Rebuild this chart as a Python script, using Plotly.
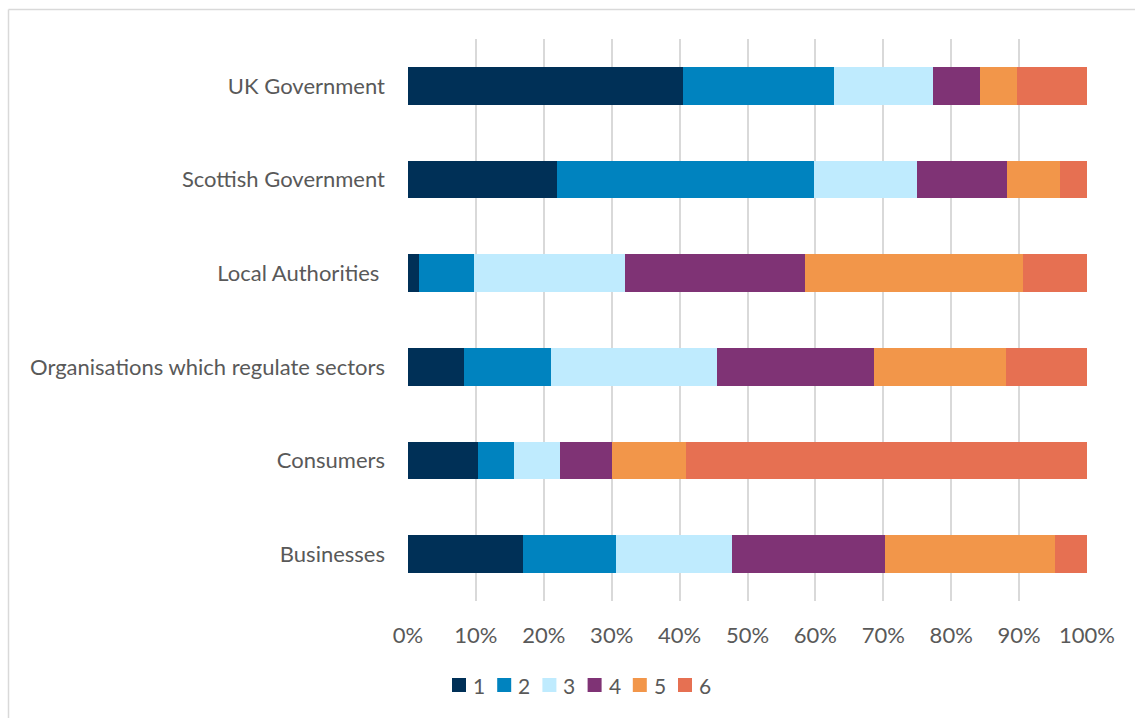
import plotly.graph_objects as go

# Respondent groups, listed top to bottom
categories = [
    "UK Government",
    "Scottish Government",
    "Local Authorities ",
    "Organisations which regulate sectors",
    "Consumers",
    "Businesses",
]

# Share of responses (%) for each rank 1-6
rank_1 = [40.5, 21.9, 1.6, 8.2, 10.3, 17.0]
rank_2 = [22.3, 37.9, 8.1, 12.8, 5.3, 13.7]
rank_3 = [14.5, 15.2, 22.3, 24.5, 6.8, 17.0]
rank_4 = [7.0, 13.2, 26.5, 23.2, 7.6, 22.6]
rank_5 = [5.4, 7.8, 32.0, 19.3, 11.0, 25.0]
rank_6 = [10.3, 4.0, 9.5, 12.0, 59.0, 4.7]

series_names = ["1", "2", "3", "4", "5", "6"]
series_values = [rank_1, rank_2, rank_3, rank_4, rank_5, rank_6]
colors = ["#003057", "#0083BF", "#BFEBFE", "#7F3375", "#F2964A", "#E67052"]

tick_vals = [0, 10, 20, 30, 40, 50, 60, 70, 80, 90, 100]
tick_text = [f"{v}%" for v in tick_vals]

FONT = "Lato"
GREY = "#595959"
SIZE = 22

W, H = 1135, 718
M_L, M_R, M_T, M_B = 408, 48, 39, 117
PLOT_W = W - M_L - M_R
PLOT_H = H - M_T - M_B


def px_x(px):
    """Page pixel x -> paper coordinate."""
    return (px - M_L) / PLOT_W


def px_y(py):
    """Page pixel y -> paper coordinate."""
    return (H - M_B - py) / PLOT_H


fig = go.Figure()
for name, vals, col in zip(series_names, series_values, colors):
    fig.add_trace(go.Bar(
        name=name,
        y=categories,
        x=vals,
        orientation="h",
        marker=dict(color=col, line=dict(width=0)),
        showlegend=False,
    ))

fig.update_layout(
    barmode="stack",
    barnorm="percent",
    bargap=0.6,
    width=W,
    height=H,
    margin=dict(l=M_L, r=M_R, t=M_T, b=M_B),
    paper_bgcolor="white",
    plot_bgcolor="white",
    font=dict(family=FONT, size=SIZE, color=GREY),
    showlegend=False,
    xaxis=dict(
        range=[0, 100],
        tickvals=tick_vals,
        ticktext=tick_text,
        showgrid=True,
        gridcolor="#D9D9D9",
        gridwidth=1.5,
        zeroline=False,
        showline=False,
        ticks="",
        ticklabelstandoff=19,
        tickfont=dict(family=FONT, size=SIZE, color=GREY),
        fixedrange=True,
    ),
    yaxis=dict(
        categoryorder="array",
        categoryarray=categories[::-1],
        showgrid=False,
        zeroline=False,
        showline=False,
        ticks="",
        ticklabelstandoff=22,
        tickfont=dict(family=FONT, size=SIZE, color=GREY),
        fixedrange=True,
    ),
)

# Legend row: colour key squares followed by the series names
LEG_X0, LEG_STEP, LEG_Y, SQ = 452, 45.2, 685, 14
for i, (name, col) in enumerate(zip(series_names, colors)):
    x0 = LEG_X0 + i * LEG_STEP
    fig.add_shape(type="rect", xref="paper", yref="paper",
                  x0=px_x(x0), x1=px_x(x0 + SQ),
                  y0=px_y(LEG_Y + SQ / 2), y1=px_y(LEG_Y - SQ / 2),
                  fillcolor=col, line=dict(width=0))
    fig.add_annotation(xref="paper", yref="paper",
                       x=px_x(x0 + SQ + 5), y=px_y(LEG_Y),
                       xanchor="left", yanchor="middle",
                       text=name, showarrow=False,
                       font=dict(family=FONT, size=21, color=GREY))

# Chart-area frame (top and left edges)
fig.add_shape(type="line", xref="paper", yref="paper",
              x0=px_x(8.5), x1=px_x(W + 20), y0=px_y(9.5), y1=px_y(9.5),
              line=dict(color="#D9D9D9", width=1.5))
fig.add_shape(type="line", xref="paper", yref="paper",
              x0=px_x(8.5), x1=px_x(8.5), y0=px_y(H + 20), y1=px_y(9.5),
              line=dict(color="#D9D9D9", width=1.5))

fig.write_html("out.html")
